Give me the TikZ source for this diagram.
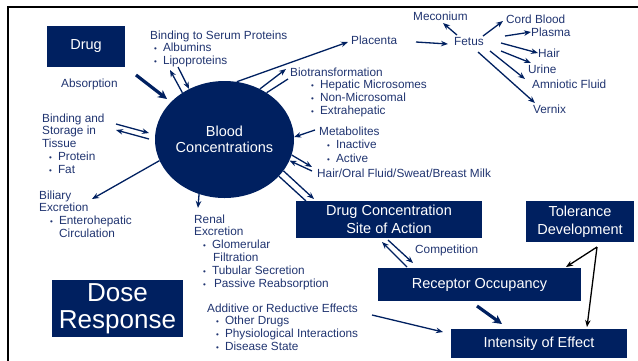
\documentclass[tikz,border=0pt]{standalone}
\usepackage{fontspec}
\setmainfont{Liberation Sans}
\usetikzlibrary{arrows.meta,shapes.geometric}

\definecolor{navy}{RGB}{0,32,96}
\definecolor{txtblue}{RGB}{32,52,112}

\newcommand{\bul}[1]{\hspace*{#1}{\fontsize{8}{8}\selectfont\textbullet}\hspace{6pt}}

\tikzset{
  box/.style={fill=navy, text=white, inner sep=0, align=center, font=\fontsize{14.5}{18}\selectfont},
  lbl/.style={anchor=base west, inner sep=0, align=left, text=txtblue, font=\fontsize{11.8}{12.8}\selectfont},
  arr/.style={navy, line width=1.3pt, -{Stealth[length=7pt,width=5.5pt]}},
  fatarr/.style={navy, line width=3.2pt, -{Stealth[length=9pt,width=9pt]}},
  blkarr/.style={black, line width=1.3pt, -{Stealth[length=7pt,width=5.5pt]}},
  pair/.style={navy, line width=1.3pt}
}

\begin{document}
\begin{tikzpicture}[x=1pt,y=-1pt]
\useasboundingbox (0,0) rectangle (638,360);
% frame
\draw[line width=2.5pt] (8,362) -- (8,7) -- (640,7);

% boxes
\node[box, minimum width=78pt, minimum height=41pt] (drug) at (86,46.5) {Drug};
\node[ellipse, fill=navy, text=white, minimum width=139pt, minimum height=117pt, inner sep=0, align=center,
      font=\fontsize{14.5}{16}\selectfont] (blood) at (224.5,139.5) {Blood\\Concentrations};
\node[box, minimum width=186pt, minimum height=37pt] (site) at (389,219.5) {Drug Concentration\\Site of Action};
\node[box, minimum width=108pt, minimum height=41pt] (tol) at (580,221.5) {Tolerance\\Development};
\node[box, minimum width=203pt, minimum height=33pt] (rec) at (479.5,284.5) {Receptor Occupancy};
\node[box, minimum width=176pt, minimum height=29pt] (effect) at (539,343.5) {Intensity of Effect};
\node[box, minimum width=131pt, minimum height=57pt, font=\fontsize{26}{27}\selectfont] (dose) at (117.5,308.5) {Dose\\Response};

% labels (multi-line ones sit on their last baseline)
\node[lbl] (absorb) at (61,87) {Absorption};
\node[lbl] (serum) at (150,64.6) {Binding to Serum Proteins\\\bul{4pt}Albumins\\\bul{4pt}Lipoproteins};
\node[lbl] (tissue) at (42,173.2) {Binding and\\Storage in\\Tissue\\\bul{7pt}Protein\\\bul{7pt}Fat};
\node[lbl] (biliary) at (39,237.4) {Biliary\\Excretion\\\bul{11pt}Enterohepatic\\\hspace*{20pt}Circulation};
\node[lbl] (renal) at (194,287) {Renal\\Excretion\\\bul{9pt}Glomerular\\\hspace*{19pt}Filtration\\\bul{9pt}Tubular Secretion\\\bul{9pt}\hspace{2pt}Passive Reabsorption};
\node[lbl] (bio) at (290,114.4) {Biotransformation\\\bul{21pt}Hepatic Microsomes\\\bul{21pt}Non-Microsomal\\\bul{21pt}Extrahepatic};
\node[lbl, font=\fontsize{11.8}{13.5}\selectfont] (metab) at (319,162) {Metabolites\\\bul{8pt}Inactive\\\bul{8pt}Active};
\node[lbl] (fluids) at (317,177) {Hair/Oral Fluid/Sweat/Breast Milk};
\node[lbl] (addit) at (207,350.4) {Additive or Reductive Effects\\\bul{9pt}Other Drugs\\\bul{9pt}Physiological Interactions\\\bul{9pt}Disease State};
\node[lbl] (compet) at (415,253) {Competition};
\node[lbl] (placenta) at (351,44) {Placenta};
\node[lbl] (fetus) at (454,45) {Fetus};
\node[lbl] (meconium) at (413,20) {Meconium};
\node[lbl] (cord) at (506,23) {Cord Blood};
\node[lbl] (plasma) at (531,36) {Plasma};
\node[lbl] (hair) at (538,57) {Hair};
\node[lbl] (urine) at (528,73) {Urine};
\node[lbl] (amnio) at (532,88) {Amniotic Fluid};
\node[lbl] (vernix) at (533,113) {Vernix};

% arrow ends
\coordinate (abs1) at (136,75);  \coordinate (abs2) at (167,99);
\coordinate (ser1) at (170,70);  \coordinate (ser2) at (178,67);
\coordinate (tis1) at (116,124); \coordinate (tis2) at (149,133);
\coordinate (tis3) at (149,139); \coordinate (tis4) at (116,130);
\coordinate (bil) at (92,199);   \coordinate (ren) at (198,208);
\coordinate (pla1) at (348,42);  \coordinate (pla2) at (416,42);
\coordinate (bio1) at (286,69);  \coordinate (bio2) at (288,79);
\coordinate (met) at (315,130);
\coordinate (flu1) at (312,167); \coordinate (flu2) at (312,171);
\coordinate (sit1) at (314,199); \coordinate (sit2) at (306,201);
\coordinate (sr1) at (407,267);  \coordinate (sr2) at (382,242);
\coordinate (sr3) at (388,240);  \coordinate (sr4) at (413,263);
\coordinate (re1) at (477,306);  \coordinate (re2) at (502,324);
\coordinate (add1) at (372,315); \coordinate (add2) at (443,332);
\coordinate (tl) at (597,247);   \coordinate (tl1) at (566,267); \coordinate (tl2) at (587,327);
\coordinate (fet) at (448,44);
\coordinate (f1) at (457,35);    \coordinate (mec) at (443,23);
\coordinate (f2) at (483,36);    \coordinate (crd) at (503,21);
\coordinate (f3) at (505,36);    \coordinate (pls) at (531,32);
\coordinate (f4) at (501,43);    \coordinate (har) at (538,53);
\coordinate (f5) at (501,51);    \coordinate (urn) at (531,63);
\coordinate (f6) at (490,51);    \coordinate (amn) at (525,79);
\coordinate (f7) at (478,52);    \coordinate (vnx) at (535,103);

% blood
\draw[fatarr] (abs1) -- (abs2);
\draw[arr] (blood.132) -- (ser1);
\draw[arr] (ser2) -- (blood.125);
\draw[arr] (tis1) -- (tis2);
\draw[arr] (tis3) -- (tis4);
\draw[arr] (blood.198) -- (bil);
\draw[arr] (blood.245) -- (ren);
\draw[arr] (blood.78) -- (pla1);
\draw[arr] (blood.55) -- (bio1);
\draw[pair] (blood.48) -- (bio2);
\draw[arr] (met) -- (blood.2);
\draw[arr] (blood.-13) -- (flu1);
\draw[arr] (flu2) -- (blood.-18);
\draw[arr] (blood.-28) -- (sit1);
\draw[pair] (blood.-34) -- (sit2);

% site / receptor / effect
\draw[arr] (sr1) -- (sr2);
\draw[arr] (sr3) -- (sr4);
\draw[fatarr] (re1) -- (re2);
\draw[arr] (add1) -- (add2);
\draw[blkarr] (tl) -- (tl1);
\draw[blkarr] (tl) -- (tl2);

% fetus
\draw[arr] (pla2) -- (fet);
\draw[arr] (f1) -- (mec);
\draw[arr] (f2) -- (crd);
\draw[arr] (f3) -- (pls);
\draw[arr] (f4) -- (har);
\draw[arr] (f5) -- (urn);
\draw[arr] (f6) -- (amn);
\draw[arr] (f7) -- (vnx);
\end{tikzpicture}
\end{document}
